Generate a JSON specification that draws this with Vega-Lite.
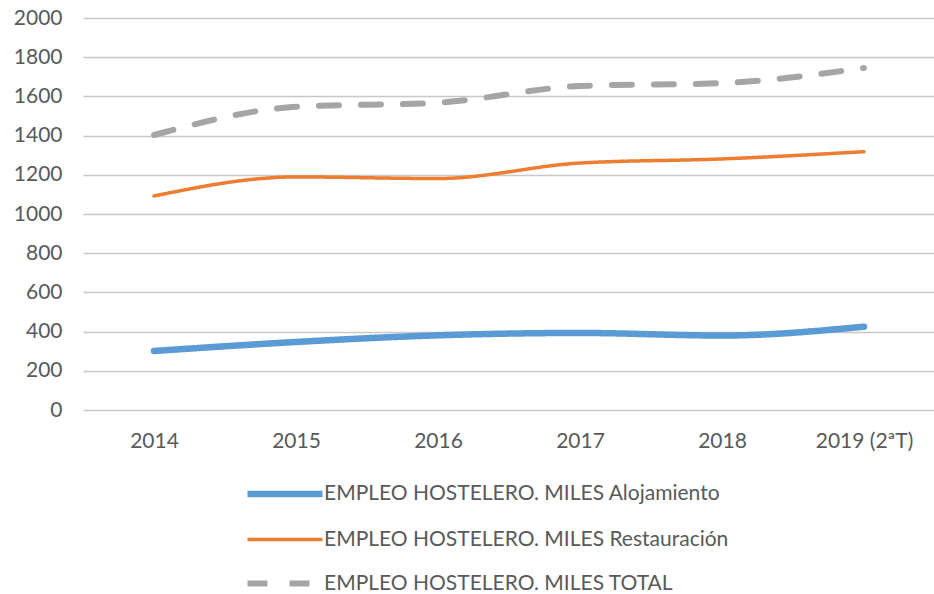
{
  "$schema": "https://vega.github.io/schema/vega-lite/v6.json",
  "autosize": "none",
  "width": 852,
  "height": 392,
  "padding": {"left": 83, "top": 18, "right": 0, "bottom": 184},
  "background": "white",
  "config": {
    "view": {"stroke": null},
    "font": "Lato",
    "legend": {"title": null, "orient": "none", "legendX": 191, "legendY": 465, "direction": "vertical", "symbolType": "M-5,0H5", "symbolSize": 225, "labelFont": "Lato", "labelFontSize": 21, "labelColor": "#595959", "rowPadding": 21, "labelOffset": 28, "labelLimit": 600}
  },
  "data": {
    "values": [
      {"year": "2014", "series": "EMPLEO HOSTELERO. MILES Alojamiento", "value": 301},
      {"year": "2015", "series": "EMPLEO HOSTELERO. MILES Alojamiento", "value": 347},
      {"year": "2016", "series": "EMPLEO HOSTELERO. MILES Alojamiento", "value": 381},
      {"year": "2017", "series": "EMPLEO HOSTELERO. MILES Alojamiento", "value": 393},
      {"year": "2018", "series": "EMPLEO HOSTELERO. MILES Alojamiento", "value": 380},
      {"year": "2019 (2ªT)", "series": "EMPLEO HOSTELERO. MILES Alojamiento", "value": 425},
      {"year": "2014", "series": "EMPLEO HOSTELERO. MILES Restauración", "value": 1092},
      {"year": "2015", "series": "EMPLEO HOSTELERO. MILES Restauración", "value": 1189},
      {"year": "2016", "series": "EMPLEO HOSTELERO. MILES Restauración", "value": 1181},
      {"year": "2017", "series": "EMPLEO HOSTELERO. MILES Restauración", "value": 1260},
      {"year": "2018", "series": "EMPLEO HOSTELERO. MILES Restauración", "value": 1281},
      {"year": "2019 (2ªT)", "series": "EMPLEO HOSTELERO. MILES Restauración", "value": 1318},
      {"year": "2014", "series": "EMPLEO HOSTELERO. MILES TOTAL", "value": 1403},
      {"year": "2015", "series": "EMPLEO HOSTELERO. MILES TOTAL", "value": 1547},
      {"year": "2016", "series": "EMPLEO HOSTELERO. MILES TOTAL", "value": 1568},
      {"year": "2017", "series": "EMPLEO HOSTELERO. MILES TOTAL", "value": 1653},
      {"year": "2018", "series": "EMPLEO HOSTELERO. MILES TOTAL", "value": 1668},
      {"year": "2019 (2ªT)", "series": "EMPLEO HOSTELERO. MILES TOTAL", "value": 1745}
    ]
  },
  "mark": {"type": "line", "interpolate": "monotone", "strokeCap": "round"},
  "encoding": {
    "x": {
      "field": "year", "type": "ordinal", "sort": null,
      "scale": {"type": "point", "padding": 0.5},
      "axis": {"title": null, "labelAngle": 0, "labelFont": "Lato", "labelFontSize": 21, "labelColor": "#595959", "labelPadding": 20, "ticks": false, "domain": false, "grid": false}
    },
    "y": {
      "field": "value", "type": "quantitative",
      "scale": {"domain": [0, 2000], "nice": false},
      "axis": {"title": null, "values": [0,200,400,600,800,1000,1200,1400,1600,1800,2000], "format": "d", "labelFont": "Lato", "labelFontSize": 21, "labelColor": "#595959", "labelPadding": 21, "ticks": false, "domain": false, "gridColor": "#C8C8C8", "gridWidth": 1.5}
    },
    "color": {
      "field": "series", "type": "nominal",
      "scale": {"range": ["#5B9BD5", "#ED7D31", "#A5A5A5"]}
    },
    "strokeWidth": {
      "field": "series", "type": "nominal",
      "scale": {"type": "ordinal", "range": [6.5, 3.5, 6]}
    },
    "strokeDash": {
      "field": "series", "type": "nominal",
      "scale": {"type": "ordinal", "range": [[1, 0], [1, 0], [20, 22]]}
    }
  }
}
